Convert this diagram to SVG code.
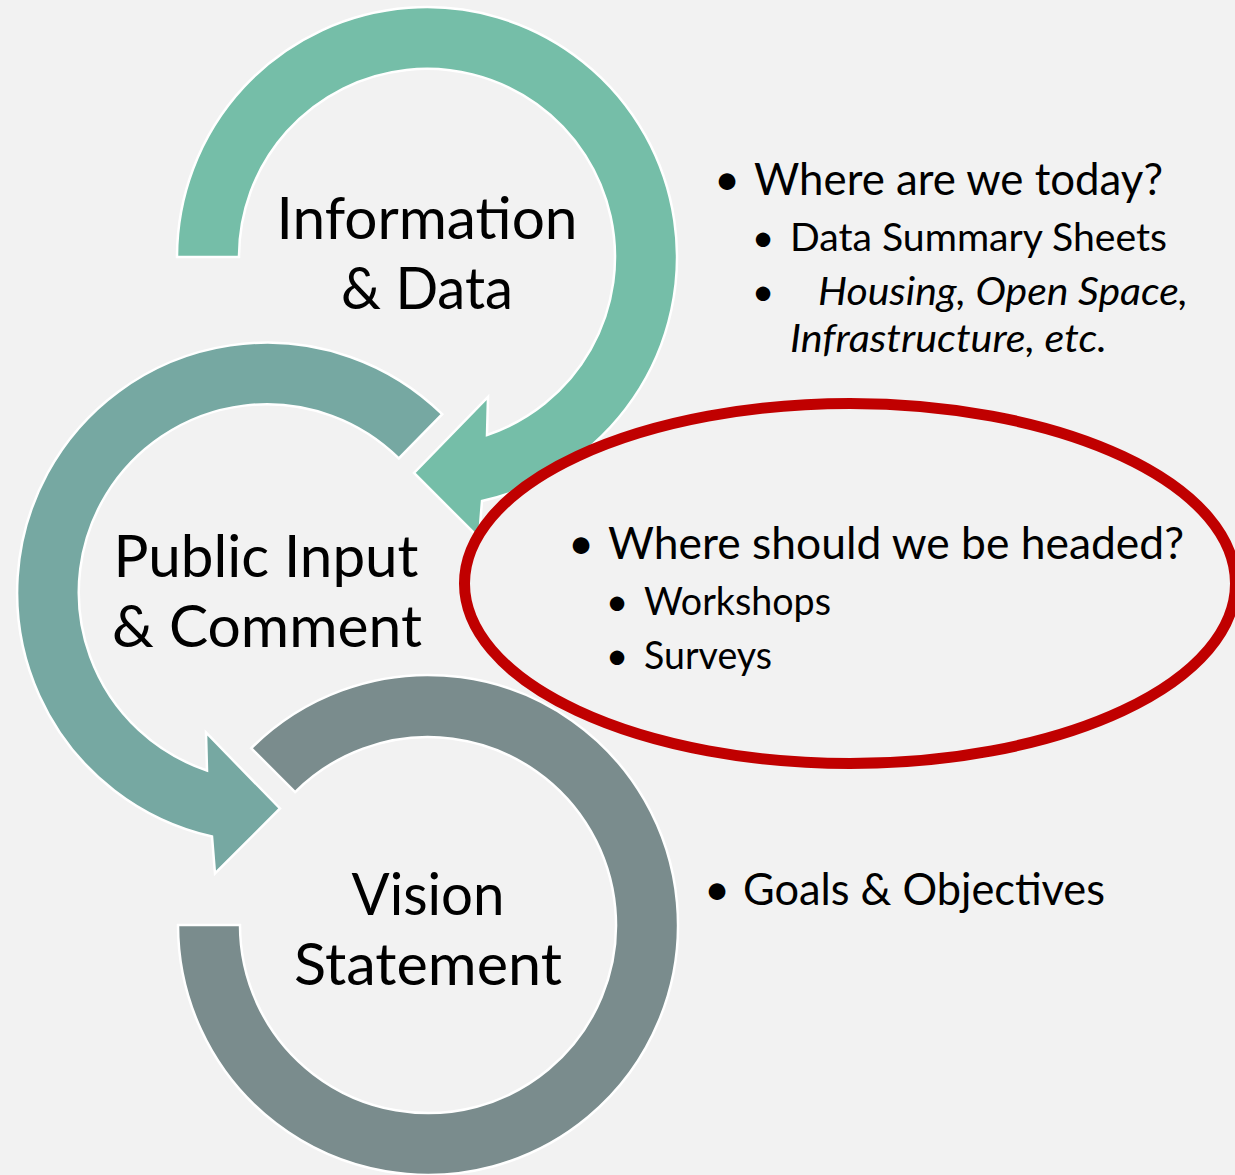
<svg xmlns="http://www.w3.org/2000/svg" width="1235" height="1175" viewBox="0 0 1235 1175">
  <style>
    .ring { stroke: #FFFFFF; stroke-width: 2.5; stroke-linejoin: miter; }
    .lbl { font-family: Lato, "Open Sans", "Liberation Sans", sans-serif; font-size: 58px; fill: #000000; text-anchor: middle; }
    .l1 { font-family: Lato, "Open Sans", "Liberation Sans", sans-serif; font-size: 45px; fill: #000000; }
    .l2 { font-family: Lato, "Open Sans", "Liberation Sans", sans-serif; font-size: 39px; fill: #000000; }
    .it { font-style: italic; }
    .bul { text-anchor: middle; }
  </style>
  <rect x="0" y="0" width="1235" height="1175" fill="#F2F2F2"/>

  <g id="node-vision">
    <path class="ring" fill="#7A8C8D" d="M 178,925 A 250,250 0 1,0 251.2,748.2 L 295.1,792.1 A 188,188 0 1,1 240,925 Z"/>
    <text class="lbl" x="428" y="915" textLength="153" lengthAdjust="spacingAndGlyphs">Vision</text>
    <text class="lbl" x="428" y="985" textLength="268" lengthAdjust="spacingAndGlyphs">Statement</text>
  </g>

  <g id="node-public">
    <path class="ring" fill="#76A8A2" d="M 442.2,414.2 A 250,250 0 1,0 212,836.5 L 215,873.5 L 280,808.5 L 206,732.5 L 207,770.5 A 188,188 0 1,1 398.8,458.4 Z"/>
    <text class="lbl" x="266" y="577" textLength="305" lengthAdjust="spacingAndGlyphs">Public Input</text>
    <text class="lbl" x="267" y="647" textLength="310" lengthAdjust="spacingAndGlyphs">&amp; Comment</text>
  </g>

  <g id="node-info">
    <path class="ring" fill="#75BEA8" d="M 177,257 A 250,250 0 1,1 482,501 L 479,538 L 414,473 L 488,397 L 487,435 A 188,188 0 1,0 239,257 Z"/>
    <text class="lbl" x="427" y="239" textLength="301" lengthAdjust="spacingAndGlyphs">Information</text>
    <text class="lbl" x="427" y="309" textLength="172" lengthAdjust="spacingAndGlyphs">&amp; Data</text>
  </g>

  <g id="connectors"></g>

  <g id="note-today">
    <text class="l1 bul" x="727" y="195">•</text>
    <text class="l1" x="754" y="195" textLength="409" lengthAdjust="spacingAndGlyphs">Where are we today?</text>
    <text class="l2 bul" x="763" y="251">•</text>
    <text class="l2" x="790" y="251" textLength="377" lengthAdjust="spacingAndGlyphs">Data Summary Sheets</text>
    <text class="l2 bul" x="763" y="305">•</text>
    <text class="l2 it" x="818" y="305" textLength="370" lengthAdjust="spacingAndGlyphs">Housing, Open Space,</text>
    <text class="l2 it" x="790" y="352" textLength="317" lengthAdjust="spacingAndGlyphs">Infrastructure, etc.</text>
  </g>

  <g id="note-headed">
    <ellipse cx="850" cy="583.5" rx="385.5" ry="180" fill="none" stroke="#C00000" stroke-width="11"/>
    <text class="l1 bul" x="581" y="559">•</text>
    <text class="l1" x="608" y="559" textLength="576" lengthAdjust="spacingAndGlyphs">Where should we be headed?</text>
    <text class="l2 bul" x="617" y="615">•</text>
    <text class="l2" x="644" y="615" textLength="187" lengthAdjust="spacingAndGlyphs">Workshops</text>
    <text class="l2 bul" x="617" y="669">•</text>
    <text class="l2" x="644" y="669" textLength="128" lengthAdjust="spacingAndGlyphs">Surveys</text>
  </g>

  <g id="note-goals">
    <text class="l1 bul" x="717" y="905">•</text>
    <text class="l1" x="743" y="905" textLength="362" lengthAdjust="spacingAndGlyphs">Goals &amp; Objectives</text>
  </g>
</svg>
